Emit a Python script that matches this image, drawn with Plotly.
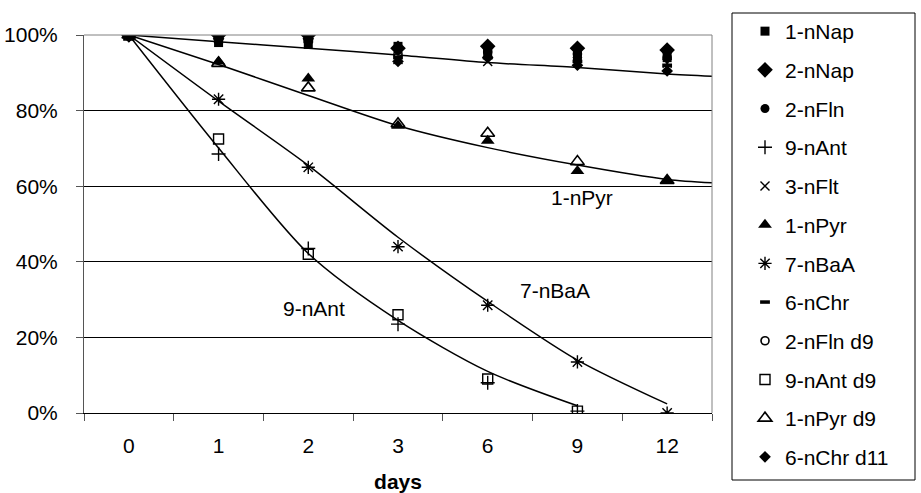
import plotly.graph_objects as go

# ---- data ----
days = ["0", "1", "2", "3", "6", "9", "12"]
series_names = ["1-nNap", "2-nNap", "2-nFln", "9-nAnt", "3-nFlt", "1-nPyr",
                "7-nBaA", "6-nChr", "2-nFln d9", "9-nAnt d9", "1-nPyr d9", "6-nChr d11"]

v_1nNap = [100, 98, 97.5, 97, 95.5, 94.5, 94]
v_2nNap = [100, 100, 100, 96.5, 97, 96.5, 96]
v_2nFln = [100, 99.5, 99.5, 96, 96.5, 96, 95.5]
v_9nAnt = [100, 68.5, 43.5, 23.5, 8, 0.5, None]
v_3nFlt = [100, 99, 99, 93.5, 93, 93, 92.5]
v_1nPyr = [100, 93, 88.5, 76, 72, 64, 61.5]
v_7nBaA = [100, 83, 65, 44, 28.5, 13.5, 0]
v_6nChr = [100, 99, 98.5, 94, 94, 93, 92]
v_2nFln_d9 = [100, 99.5, 99, 95, 95.5, 95, 94]
v_9nAnt_d9 = [100, 72.5, 42, 26, 9, 0.5, None]
v_1nPyr_d9 = [100, 92.5, 86, 76.5, 74, 66.5, 61.5]
v_6nChr_d11 = [100, 99, 99, 93, 94, 92, 90.5]

# trend lines, x in category-index units
trend_top_x = [0, 1, 2, 3, 4, 5, 6, 6.5]
trend_top_y = [100, 98.2, 96.5, 94.7, 92.7, 91.4, 89.7, 89.1]
trend_pyr_x = [0, 1, 2, 3, 4, 5, 6, 6.5]
trend_pyr_y = [100, 92.2, 84, 76, 70.2, 65.6, 61.8, 60.9]
trend_baa_x = [0, 1, 2, 3, 4, 5, 6]
trend_baa_y = [100, 82.5, 65.5, 46.5, 29.5, 14, 2.4]
trend_ant_x = [0, 1, 2, 3, 4, 5]
trend_ant_y = [100, 70.1, 42.2, 24.5, 11, 1.9]

labels = ["1-nPyr", "7-nBaA", "9-nAnt"]
label_x = [5.05, 4.75, 2.06]
label_y = [56.9, 32.5, 27.6]

values = [v_1nNap, v_2nNap, v_2nFln, v_9nAnt, v_3nFlt, v_1nPyr,
          v_7nBaA, v_6nChr, v_2nFln_d9, v_9nAnt_d9, v_1nPyr_d9, v_6nChr_d11]

# ---- styles ----
styles = [
    dict(symbol="square", size=9),
    dict(symbol="diamond", size=12),
    dict(symbol="circle", size=9),
    dict(symbol="cross-thin", size=10, line=dict(width=1.4, color="black")),
    dict(symbol="x-thin", size=9, line=dict(width=1.4, color="black")),
    dict(symbol="triangle-up", size=12),
    dict(symbol="asterisk", size=11, line=dict(width=1.4, color="black")),
    dict(symbol="line-ew", size=7, line=dict(width=3.5, color="black")),
    dict(symbol="circle-open", size=8, line=dict(width=1.6, color="black")),
    dict(symbol="square-open", size=10, line=dict(width=1.4, color="black")),
    dict(symbol="triangle-up-open", size=12, line=dict(width=1.6, color="black")),
    dict(symbol="diamond", size=9),
]

FONT = "Liberation Sans, Arial, sans-serif"
xpos = list(range(len(days)))

fig = go.Figure()

for tx, ty in [(trend_top_x, trend_top_y), (trend_pyr_x, trend_pyr_y),
               (trend_baa_x, trend_baa_y), (trend_ant_x, trend_ant_y)]:
    fig.add_trace(go.Scatter(x=tx, y=[v / 100 for v in ty], mode="lines",
                             line=dict(color="black", width=1.5, shape="spline", smoothing=0.8),
                             showlegend=False, hoverinfo="skip"))

for i, (name, vals, st) in enumerate(zip(series_names, values, styles)):
    m = dict(color="black")
    m.update(st)
    fig.add_trace(go.Scatter(x=xpos, y=[None if v is None else v / 100 for v in vals],
                             mode="markers", name=name, marker=m,
                             legendgroup="g%d" % i))

for t, lx, ly in zip(labels, label_x, label_y):
    fig.add_annotation(x=lx, y=ly / 100, text=t, showarrow=False,
                       font=dict(size=21, color="black", family=FONT),
                       xanchor="center", yanchor="middle")

L, R, T, B = 84, 712, 35, 413
W, H = 921, 493
def px(x):
    return (x - L) / (R - L)
def py(y):
    return (B - y) / (B - T)

# legend box
fig.add_shape(type="rect", xref="paper", yref="paper",
              x0=px(732), x1=px(915), y0=py(480), y1=py(13),
              line=dict(color="black", width=1), fillcolor="rgba(0,0,0,0)")
# plot border top/right (gray)
fig.add_shape(type="line", xref="paper", yref="paper", x0=0, x1=1, y0=1, y1=1,
              line=dict(color="#808080", width=1))
fig.add_shape(type="line", xref="paper", yref="paper", x0=1, x1=1, y0=0, y1=1,
              line=dict(color="#808080", width=1))

fig.update_layout(
    width=W, height=H,
    margin=dict(l=L, r=W - R, t=T, b=H - B, autoexpand=False),
    paper_bgcolor="white", plot_bgcolor="white",
    font=dict(family=FONT, size=21, color="black"),
    showlegend=True,
    legend=dict(x=px(745), y=py(11), xanchor="left", yanchor="top",
                traceorder="grouped", tracegroupgap=8.4, maxheight=480,
                bgcolor="rgba(0,0,0,0)", borderwidth=0,
                font=dict(size=21, family=FONT, color="black")),
    xaxis=dict(range=[-0.5, 6.5], tickmode="array", tickvals=xpos, ticktext=days,
               ticks="", showgrid=False, zeroline=False,
               showline=True, linecolor="black", linewidth=1,
               ticklabelstandoff=14,
               minor=dict(tickmode="linear", tick0=-0.5, dtick=1, ticks="outside",
                          ticklen=7, tickcolor="#555", showgrid=False),
               title=dict(text="<b>days</b>", font=dict(size=21, family=FONT), standoff=19),
               fixedrange=True),
    yaxis=dict(range=[0, 1], tickmode="linear", tick0=0, dtick=0.2, tickformat=".0%",
               ticks="outside", ticklen=7, tickcolor="#555",
               showgrid=True, gridcolor="black", gridwidth=1, zeroline=False,
               showline=True, linecolor="#555", linewidth=1,
               ticklabelstandoff=14, fixedrange=True),
)

fig.write_html("out.html")
